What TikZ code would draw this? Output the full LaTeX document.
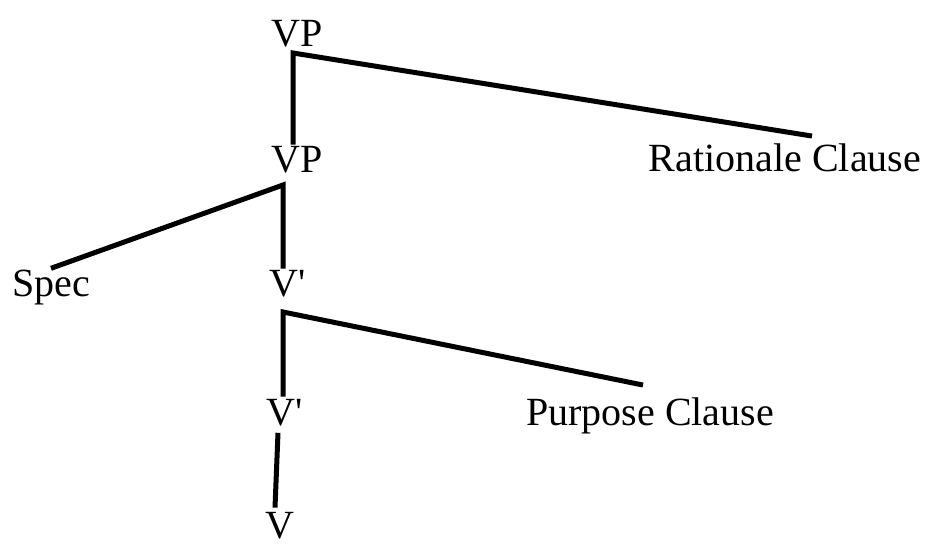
\documentclass[tikz,border=0pt]{standalone}
\usepackage{fontspec}
\setmainfont{Liberation Serif}
\tikzset{
  lab/.style = {font=\fontsize{40}{44}\selectfont, anchor=base, inner sep=2pt},
  branch/.style = {line width=5pt}
}
\begin{document}
\begin{tikzpicture}[x=1pt, y=-1pt]
	\useasboundingbox (0,0) rectangle (935,548);
	\node[lab] (vp1) at (297,47) {VP};
	\node[lab] (vp2) at (297,173) {VP};
	\node[lab] (rat) at (785,172) {Rationale Clause};
	\node[lab] (spec) at (51,297) {Spec};
	\node[lab] (vbar1) at (288,297) {V\textquotesingle};
	\node[lab] (vbar2) at (285,425) {V\textquotesingle};
	\node[lab] (pur) at (650,425) {Purpose Clause};
	\node[lab] (v) at (280,538) {V};
	\coordinate (j1) at (293,53);
	\coordinate (j2) at (283,185);
	\coordinate (j3) at (283,312);
	\draw[branch] (vp2.north -| j1) -- (j1) -- ([xshift=27pt, yshift=6pt]rat.north);
	\draw[branch] (spec.north) -- (j2) -- (vbar1.north -| j2);
	\draw[branch] (vbar2.north -| j3) -- (j3) -- ([xshift=-7pt, yshift=10pt]pur.north);
	\draw[branch] ([xshift=-7pt, yshift=-5pt]vbar2.south) -- ([xshift=-5pt, yshift=2pt]v.north);
\end{tikzpicture}
\end{document}
